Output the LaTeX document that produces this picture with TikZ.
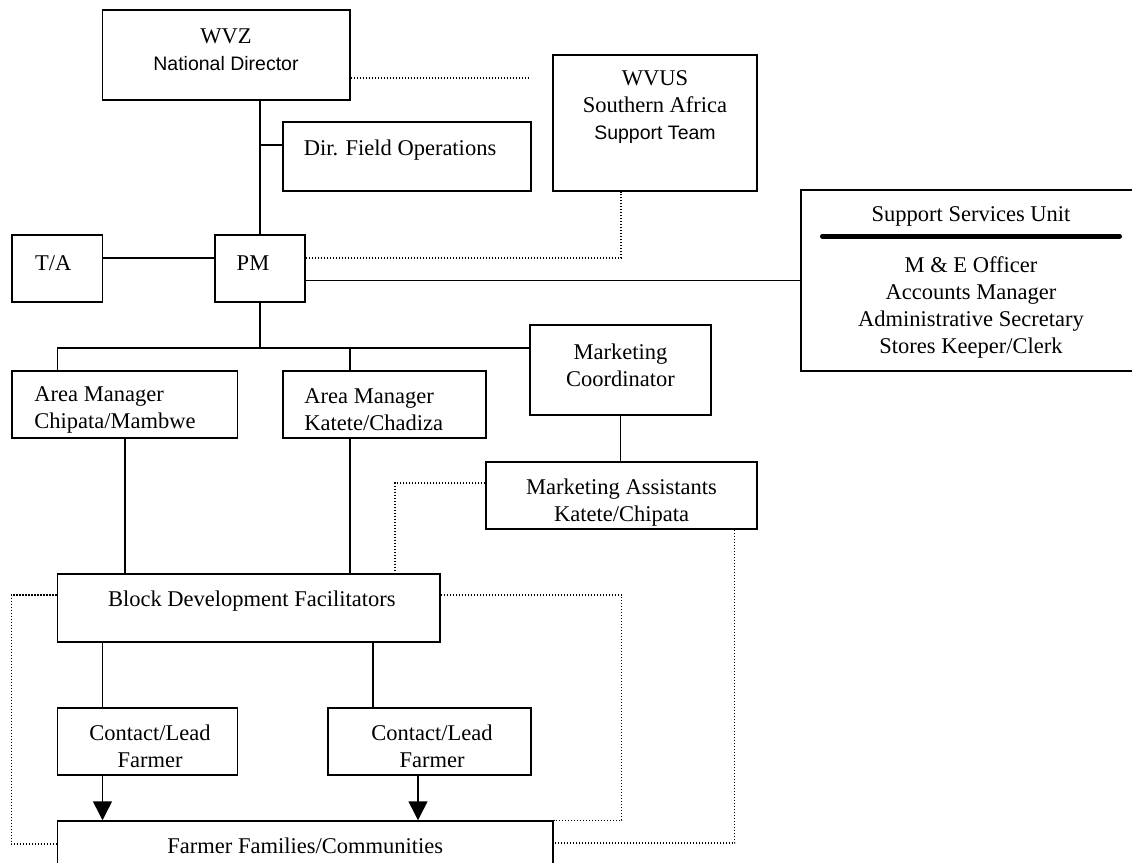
\documentclass[tikz,border=0pt]{standalone}
\usepackage{fontspec}
\setmainfont{Liberation Serif}
\newfontfamily\arialfont{Liberation Sans}
\usetikzlibrary{arrows.meta}

\begin{document}
\begin{tikzpicture}[x=1pt, y=-1pt,
  every node/.style={font=\fontsize{22.5}{27}\selectfont},
  box/.style={draw, line width=1.5pt, inner sep=0pt},
  txt/.style={align=center, inner sep=0pt},
  ltxt/.style={align=left, inner sep=0pt, anchor=west},
  line/.style={line width=1.5pt},
  dots/.style={line width=1.3pt, dash pattern=on 1.3pt off 1.7pt},
  arr/.style={line width=1.5pt, -{Triangle[length=19pt, width=19pt]}},
  rule/.style={line width=4.5pt, line cap=round}
]
\useasboundingbox (0,0) rectangle (1132,862);

% Top level
\node[box, minimum width=247.5pt, minimum height=90pt,
  label={[txt, yshift=5.5pt]center:{WVZ\\{\arialfont\fontsize{19.5}{27}\selectfont National Director}}}] (wvz) at (226,55) {};
\node[box, minimum width=204pt, minimum height=136pt,
  label={[txt, yshift=15.5pt]center:{WVUS\\Southern Africa\\{\arialfont\fontsize{19.5}{27}\selectfont Support Team}}}] (wvus) at (655,123) {};
\node[box, minimum width=248pt, minimum height=69pt,
  label={[txt, xshift=-7pt, yshift=6.5pt]center:{Dir. Field Operations}}] (dfo) at (407,156.5) {};
\node[box, minimum width=90.5pt, minimum height=67pt,
  label={[txt, xshift=-4pt, yshift=5.5pt]center:{T/A}}] (ta) at (57.25,268.5) {};
\node[box, minimum width=90pt, minimum height=67pt,
  label={[txt, xshift=-7pt, yshift=5.5pt]center:{PM}}] (pm) at (260,268.5) {};
\node[box, minimum width=340pt, minimum height=181pt,
  label={[txt, yshift=64.5pt]center:{Support Services Unit}},
  label={[txt, yshift=-27pt]center:{M \& E Officer\\Accounts Manager\\Administrative Secretary\\Stores Keeper/Clerk}}] (ssu) at (971,280.5) {};

% Middle level
\node[box, minimum width=225.5pt, minimum height=67pt,
  label={[ltxt, xshift=23pt, yshift=-5.5pt]west:{Area Manager\\Chipata/Mambwe}}] (am1) at (124.75,404.5) {};
\node[box, minimum width=203pt, minimum height=67pt,
  label={[ltxt, xshift=22pt, yshift=-5.5pt]west:{Area Manager\\Katete/Chadiza}}] (am2) at (384.5,404.5) {};
\node[box, minimum width=181pt, minimum height=90pt,
  label={[txt, yshift=4.5pt]center:{Marketing\\Coordinator}}] (mc) at (620.5,370) {};
\node[box, minimum width=271pt, minimum height=67pt,
  label={[txt, yshift=-7.5pt]center:{Marketing Assistants\\Katete/Chipata}}] (ma) at (621.5,495.5) {};

% Field level
\node[box, minimum width=382.5pt, minimum height=68pt,
  label={[txt, xshift=3pt, yshift=7pt]center:{Block Development Facilitators}}] (bdf) at (248.75,608) {};
\node[box, minimum width=180pt, minimum height=67pt,
  label={[txt, xshift=2.5pt, yshift=-5pt]center:{Contact/Lead\\Farmer}}] (clf1) at (147.5,741.5) {};
\node[box, minimum width=203pt, minimum height=67pt,
  label={[txt, xshift=2.5pt, yshift=-5pt]center:{Contact/Lead\\Farmer}}] (clf2) at (429.5,741.5) {};
\node[box, minimum width=495.5pt, minimum height=67pt,
  label={[txt, yshift=8.5pt]center:{Farmer Families/Communities}}] (ffc) at (305.25,854.5) {};

\draw[rule] ([xshift=22pt, yshift=-47pt]ssu.north west) -- ([xshift=-22pt, yshift=-47pt]ssu.north east);

% Solid links
\coordinate (dfoin) at ([yshift=11.5pt]dfo.west);
\coordinate (bus) at ([yshift=22pt]mc.west);
\coordinate (am2top) at ([xshift=-34.5pt]am2.north);
\coordinate (am2bot) at ([xshift=-34.5pt]am2.south);
\coordinate (bdfL) at ([xshift=-146.25pt]bdf.south);
\coordinate (bdfR) at ([xshift=124.25pt]bdf.south);
\coordinate (clf2out) at ([xshift=-11.5pt]clf2.south);
\draw[line] (wvz.south -| pm.north) -- (pm.north);
\draw[line] (dfoin) -- (dfoin -| pm.north);
\draw[line] ([yshift=10.5pt]ta.east) -- ([yshift=10.5pt]pm.west);
\draw[line] ([yshift=-12pt]pm.east) -- (ssu.west);
\draw[line] (pm.south) -- (pm.south |- bus);
\draw[line] (bus) -| ([xshift=-67.25pt]am1.north);
\draw[line] (am2top |- bus) -- (am2top);
\draw[line] (mc.south) -- (mc.south |- ma.north);
\draw[line] (am1.south) -- (am1.south |- bdf.north);
\draw[line] (am2bot) -- (am2bot |- bdf.north);
\draw[line] (bdfL) -- (bdfL |- clf1.north);
\draw[line] (bdfR) -- (bdfR |- clf2.north);
\draw[arr] (bdfL |- clf1.south) -- (bdfL |- ffc.north);
\draw[arr] (clf2out) -- (clf2out |- ffc.north);

% Dotted links
\coordinate (wvzend) at (528,78);
\draw[dots] ([yshift=-23pt]wvz.east) -- (wvzend);
\draw[dots] ([yshift=10.5pt]pm.east) -| ([xshift=-34pt]wvus.south);
\draw[dots] ([yshift=12.5pt]ma.west) -| ([xshift=146.25pt]bdf.north);
\draw[dots] ([yshift=13pt]bdf.west) -- ++(-45.5,0) |- ([yshift=10.5pt]ffc.west);
\draw[dots] ([yshift=13pt]bdf.east) -| ([xshift=68pt]ffc.north east) -- (ffc.north east);
\draw[dots] ([xshift=-23pt]ma.south east) |- ([yshift=11.5pt]ffc.east);
\end{tikzpicture}
\end{document}
